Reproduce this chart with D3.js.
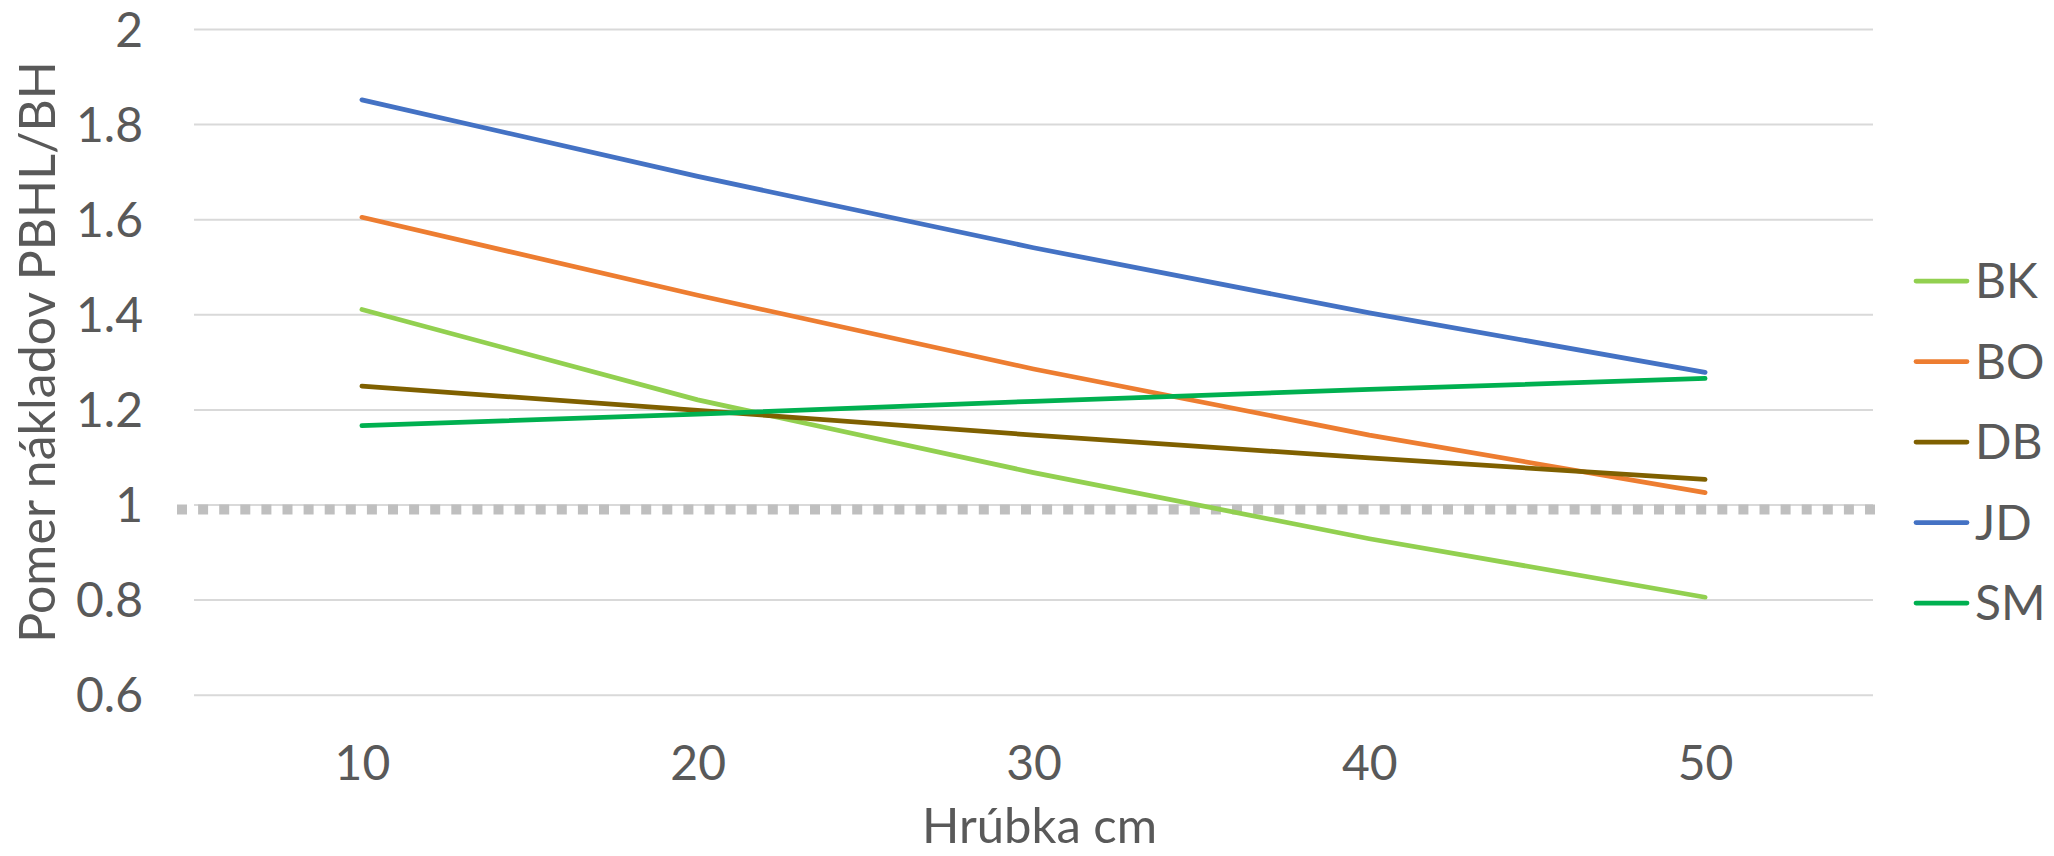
<!DOCTYPE html>
<html>
<head>
<meta charset="utf-8">
<script src="https://cdn.jsdelivr.net/npm/d3@7/dist/d3.min.js"></script>
<style>
  html, body { margin: 0; padding: 0; background: #fff; }
  svg text { font-family: Lato, "Open Sans", sans-serif; fill: #595959; }
</style>
</head>
<body>
<svg id="chart" width="2054" height="856"></svg>
<script>
// ---- data ----
const categories = [10, 20, 30, 40, 50];
const seriesNames = ["BK", "BO", "DB", "JD", "SM"];
const seriesColors = ["#92D050", "#ED7D31", "#7F6000", "#4472C4", "#00B050"];
const valuesBK = [1.410, 1.220, 1.067, 0.928, 0.805];
const valuesBO = [1.604, 1.440, 1.285, 1.146, 1.025];
const valuesDB = [1.249, 1.198, 1.146, 1.098, 1.053];
const valuesJD = [1.851, 1.690, 1.540, 1.403, 1.278];
const valuesSM = [1.166, 1.190, 1.217, 1.242, 1.265];
const yTicks = [0.6, 0.8, 1, 1.2, 1.4, 1.6, 1.8, 2];
const refValue = 1;
const xTitle = "Hrúbka cm";
const yTitle = "Pomer nákladov PBHL/BH";

const series = [valuesBK, valuesBO, valuesDB, valuesJD, valuesSM].map((v, i) => ({
  name: seriesNames[i], color: seriesColors[i], values: v
}));

// ---- layout ----
const plot = { left: 194, right: 1873, top: 29, bottom: 694.7 };
const svg = d3.select("#chart");

const x = d3.scalePoint().domain(categories).range([plot.left, plot.right]).padding(0.5);
const y = d3.scaleLinear().domain([0.6, 2]).range([plot.bottom, plot.top]);

// gridlines + y tick labels
const yAxis = d3.axisLeft(y).tickValues(yTicks).tickSize(-(plot.right - plot.left)).tickPadding(51)
  .tickFormat(d => String(+d.toFixed(1)));
const gy = svg.append("g").attr("transform", `translate(${plot.left},0)`).call(yAxis);
gy.select(".domain").remove();
gy.selectAll(".tick line").attr("stroke", "#D9D9D9").attr("stroke-width", 2);
gy.selectAll(".tick text").attr("font-size", 48).attr("dy", "0.36em").style("fill", "#595959");

// x tick labels
const xAxis = d3.axisBottom(x).tickSize(0).tickPadding(0);
const gx = svg.append("g").attr("transform", `translate(0,${plot.bottom})`).call(xAxis);
gx.select(".domain").remove();
gx.selectAll(".tick text").attr("font-size", 48).attr("dy", null).attr("y", 85).style("fill", "#595959");

// reference dotted line at 1
const refW = 10;
svg.append("line")
  .attr("x1", plot.left - 17).attr("x2", plot.right + 4)
  .attr("y1", y(refValue) + refW / 2).attr("y2", y(refValue) + refW / 2)
  .attr("stroke", "#BFBFBF").attr("stroke-width", refW)
  .attr("stroke-dasharray", "10 11.1");

// series lines
const line = d3.line().x((d, i) => x(categories[i])).y(d => y(d));
svg.append("g").selectAll("path").data(series).join("path")
  .attr("d", d => line(d.values))
  .attr("fill", "none")
  .attr("stroke", d => d.color)
  .attr("stroke-width", 4.75)
  .attr("stroke-linecap", "round")
  .attr("stroke-linejoin", "round");

// legend
const legendY = d3.scalePoint().domain(seriesNames).range([281, 603]);
const lg = svg.append("g").selectAll("g").data(series).join("g")
  .attr("transform", d => `translate(0,${legendY(d.name)})`);
lg.append("line").attr("x1", 1916).attr("x2", 1967).attr("y1", 0).attr("y2", 0)
  .attr("stroke", d => d.color).attr("stroke-width", 4.75).attr("stroke-linecap", "round");
lg.append("text").attr("x", 1975).attr("dy", "0.36em").attr("font-size", 48).text(d => d.name);

// axis titles
svg.append("text").attr("x", (plot.left + plot.right) / 2 + 6).attr("y", 843)
  .attr("text-anchor", "middle").attr("font-size", 49).text(xTitle);
svg.append("text").attr("transform", `translate(55,${(plot.top + plot.bottom) / 2 - 10}) rotate(-90)`)
  .attr("text-anchor", "middle").attr("font-size", 50).text(yTitle);
</script>
</body>
</html>
